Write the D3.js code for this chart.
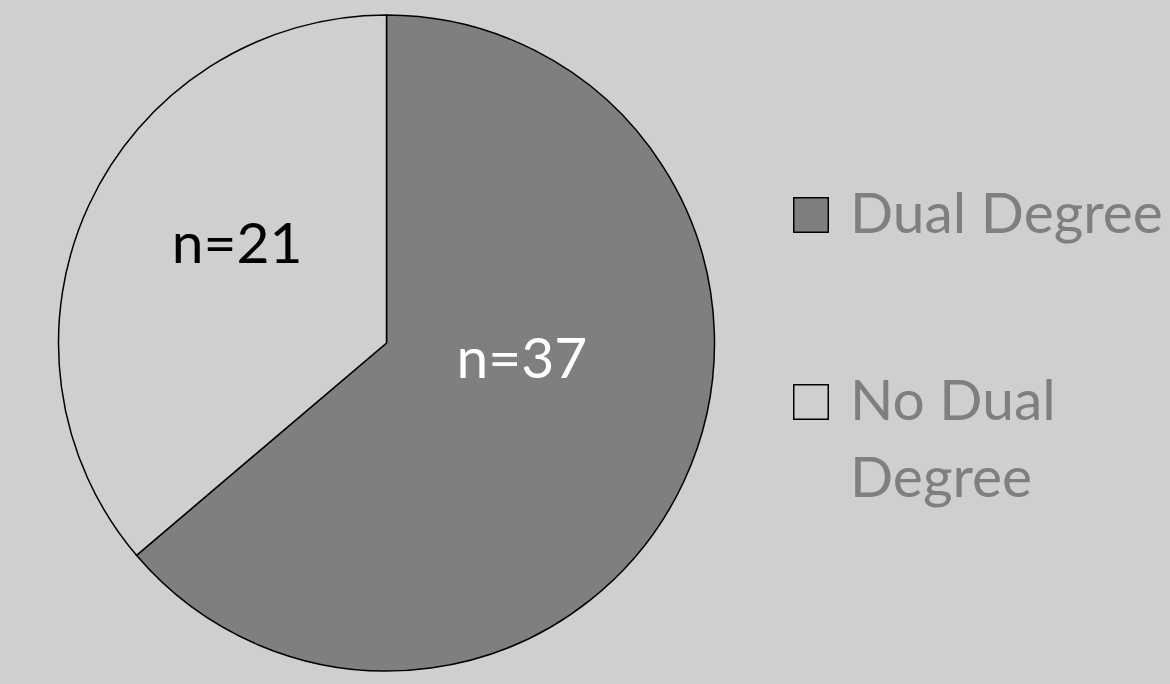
<!DOCTYPE html>
<html>
<head>
<meta charset="utf-8">
<script src="https://cdn.jsdelivr.net/npm/d3@7"></script>
<style>
  html, body { margin: 0; padding: 0; background: #d0cece; }
  svg { display: block; }
</style>
</head>
<body>
<script>
// data
const categories = ["Dual Degree", "No Dual Degree"];
const counts = [37, 21];
const labels = ["n=37", "n=21"];
const legendLines = [["Dual Degree"], ["No Dual", "Degree"]];

const width = 1170, height = 684;
const fontFamily = "Lato, 'Open Sans', sans-serif";
const bg = "#d0cece";
const fills = ["#7f7f7f", bg];
const labelColors = ["#ffffff", "#000000"];

const cx = 386.5, cy = 343, radius = 328;

const svg = d3.select("body").append("svg")
    .attr("width", width).attr("height", height);

svg.append("rect").attr("width", width).attr("height", height).attr("fill", bg);

// fit font size so "Dual Degree" spans ~313px like the original Calibri
const probe = svg.append("text").attr("font-family", fontFamily).attr("font-size", 100).text("Dual Degree");
const fontSize = 100 * 313 / probe.node().getComputedTextLength();
probe.remove();

const pie = d3.pie().sort(null).value(d => d);
const arcs = pie(counts);
const arc = d3.arc().innerRadius(0).outerRadius(radius);
const labelArc = d3.arc().innerRadius(0).outerRadius(radius * 0.95);

const g = svg.append("g").attr("transform", `translate(${cx},${cy})`);

g.selectAll("path.slice")
  .data(arcs)
  .join("path")
    .attr("class", "slice")
    .attr("d", arc)
    .attr("fill", (d, i) => fills[i])
    .attr("stroke", "#000")
    .attr("stroke-width", 1.5)
    .attr("stroke-linejoin", "round");

// Excel "best fit" label placement nudges, relative to the centroid
const labelNudge = [[-6, -52], [-8, -37]];

g.selectAll("text.label")
  .data(arcs)
  .join("text")
    .attr("class", "label")
    .attr("x", (d, i) => labelArc.centroid(d)[0] + labelNudge[i][0])
    .attr("y", (d, i) => labelArc.centroid(d)[1] + labelNudge[i][1])
    .attr("text-anchor", "middle")
    .attr("dominant-baseline", "central")
    .attr("font-family", fontFamily)
    .attr("font-size", fontSize)
    .attr("fill", (d, i) => labelColors[i])
    .text((d, i) => labels[i]);

// legend
const legendX = 793, boxSize = 36, textX = 850, lineHeight = 77;
const legendBaselines = [233, 420];

const legend = svg.append("g");
categories.forEach((c, i) => {
  legend.append("rect")
    .attr("x", legendX + 0.75)
    .attr("y", legendBaselines[i] - boxSize + 0.75)
    .attr("width", boxSize - 1.5)
    .attr("height", boxSize - 1.5)
    .attr("fill", fills[i])
    .attr("stroke", "#000")
    .attr("stroke-width", 1.5);
  const t = legend.append("text")
    .attr("x", textX)
    .attr("y", legendBaselines[i])
    .attr("font-family", fontFamily)
    .attr("font-size", fontSize)
    .attr("fill", "#7f7f7f");
  legendLines[i].forEach((line, j) => {
    t.append("tspan")
      .attr("x", textX)
      .attr("dy", j === 0 ? 0 : lineHeight)
      .text(line);
  });
});
</script>
</body>
</html>
